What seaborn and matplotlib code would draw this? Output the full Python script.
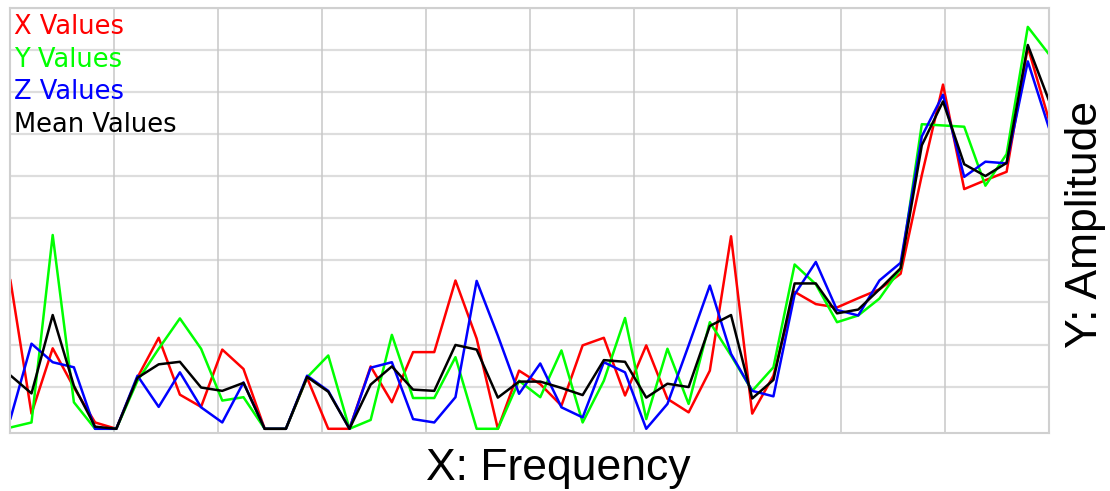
import numpy as np
import pandas as pd
import seaborn as sns
import matplotlib.pyplot as plt

# amplitude per frequency bin
x_vals = [3.54, 0.36, 1.91, 0.98, 0.15, 0.00, 1.22, 2.16, 0.81, 0.52,
          1.88, 1.42, 0.00, 0.00, 1.21, 0.00, 0.00, 1.48, 0.63, 1.82,
          1.82, 3.52, 2.14, 0.00, 1.38, 1.06, 0.55, 1.98, 2.16, 0.79,
          1.98, 0.71, 0.39, 1.38, 4.57, 0.36, 1.26, 3.25, 2.96, 2.88,
          3.10, 3.31, 3.68, 6.02, 8.17, 5.69, 5.90, 6.10, 9.06, 7.33]
y_vals = [0.03, 0.15, 4.60, 0.63, 0.00, 0.00, 1.14, 1.90, 2.62, 1.90,
          0.67, 0.75, 0.00, 0.00, 1.22, 1.74, 0.00, 0.21, 2.23, 0.73,
          0.73, 1.70, 0.00, 0.00, 1.14, 0.75, 1.86, 0.15, 1.14, 2.63,
          0.23, 1.90, 0.59, 2.53, 1.74, 0.90, 1.46, 3.90, 3.43, 2.53,
          2.69, 3.09, 3.80, 7.23, 7.20, 7.17, 5.77, 6.52, 9.54, 8.89]
z_vals = [0.23, 2.02, 1.58, 1.46, 0.00, 0.00, 1.26, 0.52, 1.34, 0.51,
          0.15, 1.10, 0.00, 0.00, 1.26, 0.90, 0.00, 1.45, 1.58, 0.23,
          0.15, 0.75, 3.51, 2.21, 0.83, 1.55, 0.51, 0.27, 1.58, 1.34,
          0.00, 0.59, 1.98, 3.40, 1.78, 0.90, 0.77, 3.19, 3.96, 2.82,
          2.69, 3.52, 3.94, 6.94, 7.93, 5.98, 6.34, 6.30, 8.72, 7.14]
mean_vals = [1.27, 0.84, 2.70, 1.02, 0.05, 0.00, 1.21, 1.53, 1.59, 0.98,
             0.90, 1.09, 0.00, 0.00, 1.23, 0.88, 0.00, 1.05, 1.48, 0.93,
             0.90, 1.99, 1.88, 0.74, 1.12, 1.12, 0.97, 0.80, 1.63, 1.59,
             0.74, 1.07, 0.99, 2.44, 2.70, 0.72, 1.16, 3.45, 3.45, 2.74,
             2.83, 3.31, 3.81, 6.73, 7.77, 6.28, 6.00, 6.31, 9.11, 7.79]
series_names = ['X Values', 'Y Values', 'Z Values', 'Mean Values']
series_colors = ['#ff0000', '#00ff00', '#0000ff', '#000000']

freq = np.arange(len(x_vals))
df = pd.concat([
    pd.DataFrame({'Frequency': freq, 'Amplitude': vals, 'Series': name})
    for name, vals in zip(series_names, [x_vals, y_vals, z_vals, mean_vals])
])

sns.set_style('white')
fig = plt.figure(figsize=(11.1, 4.91), dpi=100)
ax = fig.add_axes([10.3 / 1110, 1 - 433 / 491, 1038.7 / 1110, 425.5 / 491])

# grid first so the lines sit on top
for v in range(1, 11):
    ax.axhline(v, color='#dddddd', lw=1.6, zorder=0)
for v in np.linspace(0, freq[-1], 11)[1:-1]:
    ax.axvline(v, color='#c8c8c8', lw=1.1, zorder=0)

sns.lineplot(data=df, x='Frequency', y='Amplitude', hue='Series',
             hue_order=series_names, palette=series_colors,
             linewidth=1.8, ax=ax, legend=True)

ax.set_xlim(0, freq[-1])
ax.set_ylim(-0.1, 10)
ax.set_xticks([])
ax.set_yticks([])
for sp in ax.spines.values():
    sp.set_color('#d0d0d0')
    sp.set_linewidth(1.5)

leg = ax.legend(loc='upper left', bbox_to_anchor=(-0.003, 1.0), frameon=False,
                handlelength=0, handletextpad=0, borderaxespad=0,
                borderpad=0.25, labelspacing=0.26,
                prop={'family': 'DejaVu Sans', 'size': 18.5})
for h in leg.legend_handles:
    h.set_visible(False)
for txt, c in zip(leg.get_texts(), series_colors):
    txt.set_color(c)

ax.set_xlabel('X: Frequency', fontsize=32, family='Liberation Sans',
              color='black', va='baseline')
ax.xaxis.set_label_coords((558 - 10.3) / 1038.7, (433 - 480) / 425.5)
ax.set_ylabel('Y: Amplitude', fontsize=32, family='Liberation Sans', color='black',
              rotation=90, rotation_mode='anchor', va='baseline', ha='center')
ax.yaxis.set_label_coords((1096.7 - 10.3) / 1038.7, (433 - 224) / 425.5)

fig.savefig('out.png', dpi=100)
